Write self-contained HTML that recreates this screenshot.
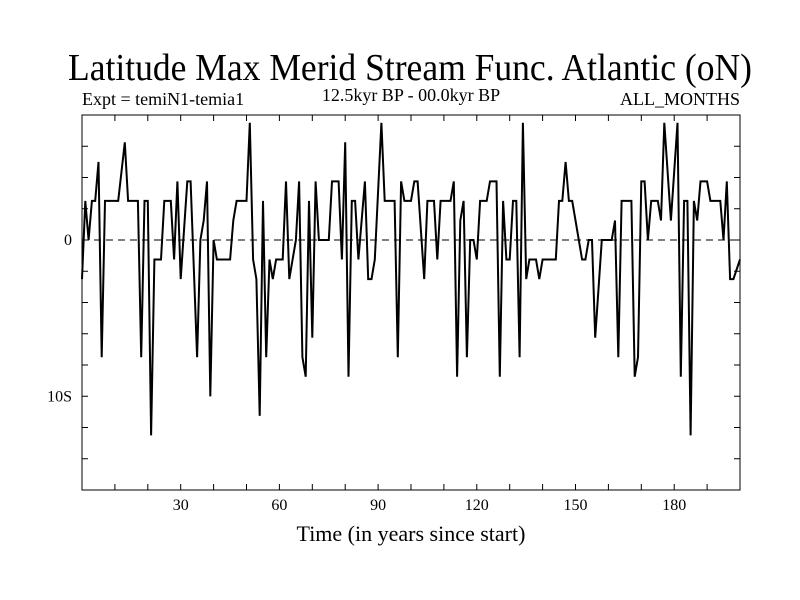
<!DOCTYPE html>
<html><head><meta charset="utf-8"><style>
html,body{margin:0;padding:0;background:#fff;width:800px;height:600px;overflow:hidden}
text{font-family:"Liberation Serif",serif;fill:#000}
</style></head><body>
<svg id="chart" width="800" height="600" xmlns="http://www.w3.org/2000/svg">
<text x="410" y="80" font-size="38" text-anchor="middle" textLength="684" lengthAdjust="spacingAndGlyphs">Latitude Max Merid Stream Func. Atlantic (oN)</text>
<text x="82" y="105" font-size="18">Expt = temiN1-temia1</text>
<text x="411" y="101" font-size="18" text-anchor="middle">12.5kyr BP - 00.0kyr BP</text>
<text x="740" y="105" font-size="18" text-anchor="end">ALL_MONTHS</text>
<text x="411" y="541" font-size="22" text-anchor="middle">Time (in years since start)</text>
<g id="plot"></g>
</svg>
<script>
const years = [0,1,2,3,4,5,6,7,11,13,14,17,18,19,20,21,22,24,25,27,28,29,30,32,33,35,36,37,38,39,40,41,45,46,47,50,51,52,53,54,55,56,57,58,59,61,62,63,64,65,66,67,68,69,70,71,72,75,76,78,79,80,81,82,83,84,86,87,88,89,91,92,95,96,97,98,100,101,102,104,105,107,108,109,112,113,114,115,116,117,118,119,120,121,123,124,126,127,128,129,130,131,132,133,134,135,136,138,139,140,144,145,146,147,148,149,152,153,154,155,156,158,161,162,163,164,167,168,169,170,171,172,173,175,176,177,179,181,182,183,184,185,186,187,188,190,191,194,195,196,197,198,200];
const values = [-2.5,2.5,0,2.5,2.5,5,-7.5,2.5,2.5,6.25,2.5,2.5,-7.5,2.5,2.5,-12.5,-1.25,-1.25,2.5,2.5,-1.25,3.75,-2.5,3.75,3.75,-7.5,0,1.25,3.75,-10,0,-1.25,-1.25,1.25,2.5,2.5,7.5,-1.25,-2.5,-11.25,2.5,-7.5,-1.25,-2.5,-1.25,-1.25,3.75,-2.5,-1.25,0,3.75,-7.5,-8.75,2.5,-6.25,3.75,0,0,3.75,3.75,-1.25,6.25,-8.75,2.5,2.5,-1.25,3.75,-2.5,-2.5,-1.25,7.5,2.5,2.5,-7.5,3.75,2.5,2.5,3.75,3.75,-2.5,2.5,2.5,-1.25,2.5,2.5,3.75,-8.75,1.25,2.5,-7.5,0,0,-1.25,2.5,2.5,3.75,3.75,-8.75,2.5,-1.25,-1.25,2.5,2.5,-7.5,7.5,-2.5,-1.25,-1.25,-2.5,-1.25,-1.25,2.5,2.5,5,2.5,2.5,-1.25,-1.25,0,0,-6.25,0,0,1.25,-7.5,2.5,2.5,-8.75,-7.5,3.75,3.75,0,2.5,2.5,1.25,7.5,1.25,7.5,-8.75,2.5,2.5,-12.5,2.5,1.25,3.75,3.75,2.5,2.5,0,3.75,-2.5,-2.5,-1.25];
const xTicks = [0,10,20,30,40,50,60,70,80,90,100,110,120,130,140,150,160,170,180,190,200];
const xLabels = [30,60,90,120,150,180];
const yTicks = [-16,-14,-12,-10,-8,-6,-4,-2,0,2,4,6,8];
const yLabels = [{v:0,t:"0"},{v:-10,t:"10S"}];

const L=82,R=740,T=115,B=490,X0=0,X1=200,Y0=-16,Y1=8;
const sx=v=>L+(v-X0)/(X1-X0)*(R-L);
const sy=v=>B-(v-Y0)/(Y1-Y0)*(B-T);
const NS="http://www.w3.org/2000/svg";
const g=document.getElementById('plot');
function mk(tag,attrs){const e=document.createElementNS(NS,tag);for(const k in attrs)e.setAttribute(k,attrs[k]);g.appendChild(e);return e;}

let frame=mk('rect',{x:L,y:T,width:R-L,height:B-T,fill:'none',stroke:'#000','stroke-width':1});



xTicks.forEach(v=>{
  const x=sx(v);
  const a=mk('line',{x1:x,y1:B,x2:x,y2:B-6,stroke:'#000'});
  
  
  const b=mk('line',{x1:x,y1:T,x2:x,y2:T+6,stroke:'#000'});
  
  
});
xLabels.forEach(v=>{
  const t=mk('text',{x:sx(v),y:B+20,'font-size':16,'text-anchor':'middle'});
  t.textContent=v;
  
  
});
yTicks.forEach(v=>{
  const y=sy(v);
  const a=mk('line',{x1:L,y1:y,x2:L+6,y2:y,stroke:'#000'});
  
  
  const b=mk('line',{x1:R,y1:y,x2:R-6,y2:y,stroke:'#000'});
  
  
});
yLabels.forEach(o=>{
  const t=mk('text',{x:L-10,y:sy(o.v)+5,'font-size':16,'text-anchor':'end'});
  t.textContent=o.t;
  
  
});
const zl=mk('line',{x1:L,y1:sy(0),x2:R,y2:sy(0),stroke:'#000','stroke-dasharray':'7,5','stroke-width':1});



const pts=years.map((y,i)=>sx(y).toFixed(1)+','+sy(values[i]).toFixed(1)).join(' ');
const line=mk('polyline',{points:pts,fill:'none',stroke:'#000','stroke-width':2,'stroke-linejoin':'miter'});


</script>
</body></html>
